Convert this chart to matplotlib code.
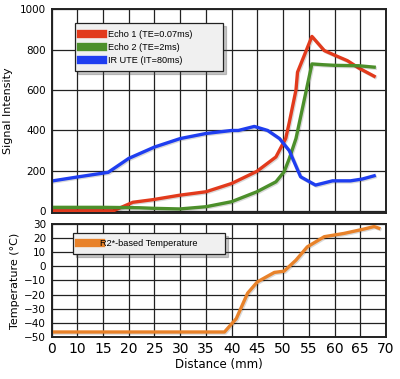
import numpy as np
import matplotlib
matplotlib.use('Agg')
import matplotlib.pyplot as plt
import matplotlib.patheffects as pe

# Axis quirk of the original: gridlines every 5 mm, first one labelled "0"
x_ticks = [5, 10, 15, 20, 25, 30, 35, 40, 45, 50, 55, 60, 65, 70]
x_ticklabels = ['0', '10', '15', '20', '25', '30', '35', '40', '45', '50', '55', '60', '65', '70']

# Echo 1 (TE=0.07ms)
echo1_x = [5, 17, 20.8, 24.7, 29.9, 35, 40, 44.9, 48.6, 50.5, 51.2, 52.5, 52.8, 55.6, 58, 60.2, 62.5, 64.75, 67.7]
echo1_y = [3, 3, 45, 58, 80, 97, 138, 198, 269, 360, 440, 600, 688, 865, 795, 770, 745, 708, 668]

# Echo 2 (TE=2ms)
echo2_x = [5, 15, 22, 25, 29.9, 35, 40, 44.9, 48.6, 50.2, 51.2, 52.5, 55.6, 57.8, 60, 64.7, 67.7]
echo2_y = [20, 20, 18, 15, 12, 23, 48, 97, 146, 196, 261, 360, 729, 725, 722, 720, 713]

# IR UTE (IT=80ms)
ute_x = [5, 10, 16, 20, 25, 30, 35, 40, 41.3, 44.4, 47, 49.3, 51.2, 53.4, 56.3, 59.6, 63.1, 65.4, 67.7]
ute_y = [150, 170, 193, 262, 318, 360, 385, 400, 400, 420, 400, 360, 300, 171, 130, 151, 151, 160, 176]

# R2*-based Temperature
temp_x = [5, 38.6, 40.9, 43.1, 45, 48.3, 50.2, 52.5, 54.7, 58, 61.8, 65.7, 67.7, 68.6]
temp_y = [-46.5, -46.5, -37, -19, -11, -4.3, -3.4, 4.4, 13.8, 21, 23.3, 26.4, 28.2, 27]

c_red = '#e23a1c'
c_green = '#4c8f2b'
c_blue = '#1f3ef0'
c_orange = '#e8822a'

plt.rcParams['font.family'] = ['DejaVu Sans']

fig = plt.figure(figsize=(4.0, 3.79), dpi=100)
ax1 = fig.add_axes([0.129, 0.438, 0.836, 0.538])
ax2 = fig.add_axes([0.129, 0.111, 0.836, 0.298])

shadow = [pe.SimpleLineShadow(offset=(0.8, -0.8), alpha=0.15), pe.Normal()]

for ax in (ax1, ax2):
    ax.set_xlim(5, 70)
    ax.set_xticks(x_ticks)
    ax.grid(True, color='#222222', linewidth=0.9)
    ax.set_axisbelow(True)
    ax.tick_params(length=0)
    for s in ax.spines.values():
        s.set_linewidth(1.4)
        s.set_color('#222222')

ax1.plot(echo1_x, echo1_y, color=c_red, lw=2.4, label='Echo 1 (TE=0.07ms)', path_effects=shadow)
ax1.plot(echo2_x, echo2_y, color=c_green, lw=2.4, label='Echo 2 (TE=2ms)', path_effects=shadow)
ax1.plot(ute_x, ute_y, color=c_blue, lw=2.4, label='IR UTE (IT=80ms)', path_effects=shadow)
ax1.set_ylim(-8, 1000)
ax1.set_yticks([0, 200, 400, 600, 800, 1000])
ax1.set_xticklabels([])
ax1.tick_params(axis='y', labelsize=7.5, pad=4)
ax1.set_ylabel('Signal Intensity', fontsize=8, labelpad=5)

leg_kw = dict(prop={'family': 'Liberation Sans', 'size': 6.6}, fancybox=False,
              shadow={'alpha': 0.3}, framealpha=1, facecolor='#f0f0f0',
              edgecolor='#222222', mode='expand', loc='upper left',
              handlelength=2.4, handleheight=0.6, borderaxespad=0)
leg1 = ax1.legend(bbox_to_anchor=(0.07, 0.70, 0.443, 0.231), handletextpad=0.45,
                  labelspacing=0.45, borderpad=0.7, **leg_kw)
for h in leg1.get_lines():
    h.set_linewidth(6)
    h.set_path_effects([])
leg1.get_frame().set_linewidth(0.9)

ax2.plot(temp_x, temp_y, color=c_orange, lw=2.4, label='R2*-based Temperature', path_effects=shadow)
ax2.set_ylim(-50, 30)
ax2.set_yticks([-50, -40, -30, -20, -10, 0, 10, 20, 30])
ax2.set_xticklabels(x_ticklabels)
ax2.tick_params(axis='y', labelsize=7.5, pad=4)
ax2.tick_params(axis='x', labelsize=10, pad=4)
ax2.set_ylabel('Temperature (°C)', fontsize=8, labelpad=3)
ax2.set_xlabel('Distance (mm)', fontsize=8.5, labelpad=1)
leg2 = ax2.legend(bbox_to_anchor=(0.064, 0.717, 0.455, 0.203), handletextpad=-0.1,
                  borderpad=0.65, **leg_kw)
for h in leg2.get_lines():
    h.set_linewidth(6)
    h.set_path_effects([])
leg2.get_frame().set_linewidth(0.9)

fig.savefig('out.png', dpi=100)
